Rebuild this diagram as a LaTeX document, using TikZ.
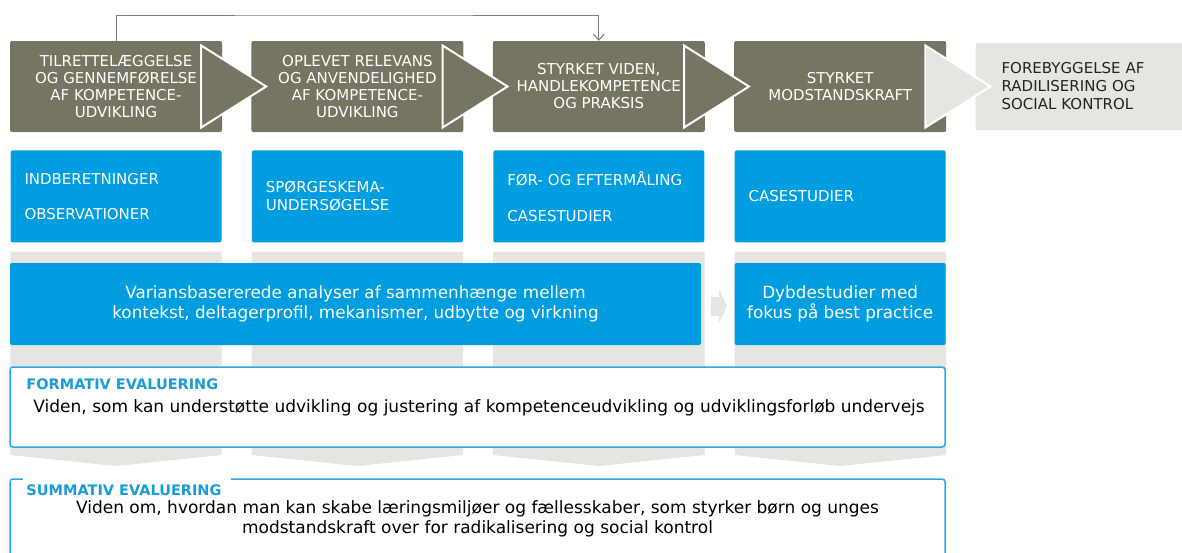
\documentclass[tikz,border=0pt]{standalone}
\usepackage{fontspec}
\setmainfont{DejaVu Sans}
\usepackage{tikz}
\usetikzlibrary{arrows.meta,positioning,calc}
\definecolor{phasegray}{RGB}{118,116,98}
\definecolor{stone}{RGB}{230,229,225}
\definecolor{sky}{RGB}{0,158,224}
\definecolor{skyline}{RGB}{41,171,226}
\definecolor{skytext}{RGB}{27,156,216}
\definecolor{wire}{RGB}{128,126,112}
\definecolor{ink}{RGB}{35,35,35}
\tikzset{
phase/.style = {fill=phasegray, rectangle, rounded corners=2pt, align=center, text=white, minimum width=212pt, minimum height=91pt, inner sep=0pt, font=\fontsize{15}{17}\selectfont},
goal/.style = {fill=stone, rectangle, rounded corners=2pt, align=left, text=ink, text width=180pt, inner xsep=26pt, minimum height=87pt, font=\fontsize{15}{18}\selectfont},
method/.style = {fill=sky, rectangle, rounded corners=2pt, align=left, text=white, text width=183pt, inner xsep=14pt, minimum height=92pt, font=\fontsize{15}{18}\selectfont},
result/.style = {fill=sky, rectangle, rounded corners=2pt, align=center, text=white, minimum height=82pt, inner sep=0pt, font=\fontsize{16.8}{20}\selectfont},
evalbox/.style = {draw=skyline, line width=1.5pt, fill=white, rectangle, rounded corners=3pt, minimum width=935pt},
evaltitle/.style = {text=skytext, inner sep=0pt, font=\bfseries\fontsize{14.5}{16}\selectfont},
evaltext/.style = {text=black, inner sep=0pt, align=center, font=\fontsize{17}{20}\selectfont},
pointer/.style = {draw=white, line width=2pt, line join=miter}
}
\begin{document}
\begin{tikzpicture}[x=1pt, y=-1pt, node distance=29pt, >={Straight Barb[length=6pt,width=11pt]}]
   \clip (0,0) rectangle (1182,552);
   \node [phase] (p1) at (116,86.5) {TILRETTELÆGGELSE\\OG GENNEMFØRELSE\\AF KOMPETENCE-\\UDVIKLING};
   \node [phase, right=of p1] (p2) {OPLEVET RELEVANS\\OG ANVENDELIGHED\\AF KOMPETENCE-\\UDVIKLING};
   \node [phase, right=of p2] (p3) {STYRKET VIDEN,\\HANDLEKOMPETENCE\\OG PRAKSIS};
   \node [phase, right=of p3] (p4) {STYRKET\\MODSTANDSKRAFT};
   \node [goal, right=of p4] (p5) {FOREBYGGELSE AF\\RADILISERING OG\\SOCIAL KONTROL};
   \node [method, below=18pt of p1] (m1) {INDBERETNINGER\\[17pt]OBSERVATIONER};
   \node [method, below=18pt of p2] (m2) {SPØRGESKEMA-\\UNDERSØGELSE};
   \node [method, below=18pt of p3] (m3) {FØR- OG EFTERMÅLING\\[18pt]CASESTUDIER};
   \node [method, below=18pt of p4] (m4) {CASESTUDIER};
   \fill [stone] ([yshift=-9pt]m1.south west) -- ([yshift=-9pt]m1.south east) -- (m1.east |- 0,455) -- (m1.center |- 0,466) -- (m1.west |- 0,455) -- cycle;
   \fill [stone] ([yshift=-9pt]m2.south west) -- ([yshift=-9pt]m2.south east) -- (m2.east |- 0,455) -- (m2.center |- 0,466) -- (m2.west |- 0,455) -- cycle;
   \fill [stone] ([yshift=-9pt]m3.south west) -- ([yshift=-9pt]m3.south east) -- (m3.east |- 0,455) -- (m3.center |- 0,466) -- (m3.west |- 0,455) -- cycle;
   \fill [stone] ([yshift=-9pt]m4.south west) -- ([yshift=-9pt]m4.south east) -- (m4.east |- 0,455) -- (m4.center |- 0,466) -- (m4.west |- 0,455) -- cycle;
   \node [result, minimum width=691pt] (r1) at (355.5,304) {Variansbasererede analyser af sammenhænge mellem\\kontekst, deltagerprofil, mekanismer, udbytte og virkning};
   \node [result, minimum width=211pt] (r2) at (m4 |- r1) {Dybdestudier med\\fokus på best practice};
   \fill [stone] (711,297) -- (719,297) -- (719,289) -- (727,306) -- (719,323) -- (719,316) -- (711,316) -- cycle;
   \node [evalbox, minimum height=80pt] (fe) at (477.5,407) {};
   \node [evaltitle, anchor=west] (fet) at ([xshift=17pt,yshift=-18pt]fe.north west) {FORMATIV EVALUERING};
   \node [evaltext, anchor=west] (feb) at ([xshift=24pt,yshift=-42pt]fe.north west) {Viden, som kan understøtte udvikling og justering af kompetenceudvikling og udviklingsforløb undervejs};
   \node [evalbox, minimum height=86pt] (se) at (477.5,522) {};
   \fill [white] ([xshift=14pt,yshift=3pt]se.north west) rectangle ([xshift=222pt,yshift=-3pt]se.north west);
   \node [evaltitle, anchor=west] (set) at ([xshift=17pt,yshift=-12pt]se.north west) {SUMMATIV EVALUERING};
   \node [evaltext] (seb) at ([yshift=-41pt]se.north) {Viden om, hvordan man kan skabe læringsmiljøer og fællesskaber, som styrker børn og unges\\modstandskraft over for radikalisering og social kontrol};
   \draw [pointer, fill=phasegray] ([xshift=-21pt,yshift=41pt]p1.east) -- ([xshift=44pt]p1.east) -- ([xshift=-21pt,yshift=-41pt]p1.east) -- cycle;
   \draw [pointer, fill=phasegray] ([xshift=-21pt,yshift=41pt]p2.east) -- ([xshift=44pt]p2.east) -- ([xshift=-21pt,yshift=-41pt]p2.east) -- cycle;
   \draw [pointer, fill=phasegray] ([xshift=-21pt,yshift=41pt]p3.east) -- ([xshift=44pt]p3.east) -- ([xshift=-21pt,yshift=-41pt]p3.east) -- cycle;
   \draw [pointer, fill=stone] ([xshift=-21pt,yshift=41pt]p4.east) -- ([xshift=44pt]p4.east) -- ([xshift=-21pt,yshift=-41pt]p4.east) -- cycle;
   \coordinate (bend) at (350,15);
   \draw [->, draw=wire, line width=1pt] (p1.north) |- (bend) -| (p3.north);
\end{tikzpicture}
\end{document}
